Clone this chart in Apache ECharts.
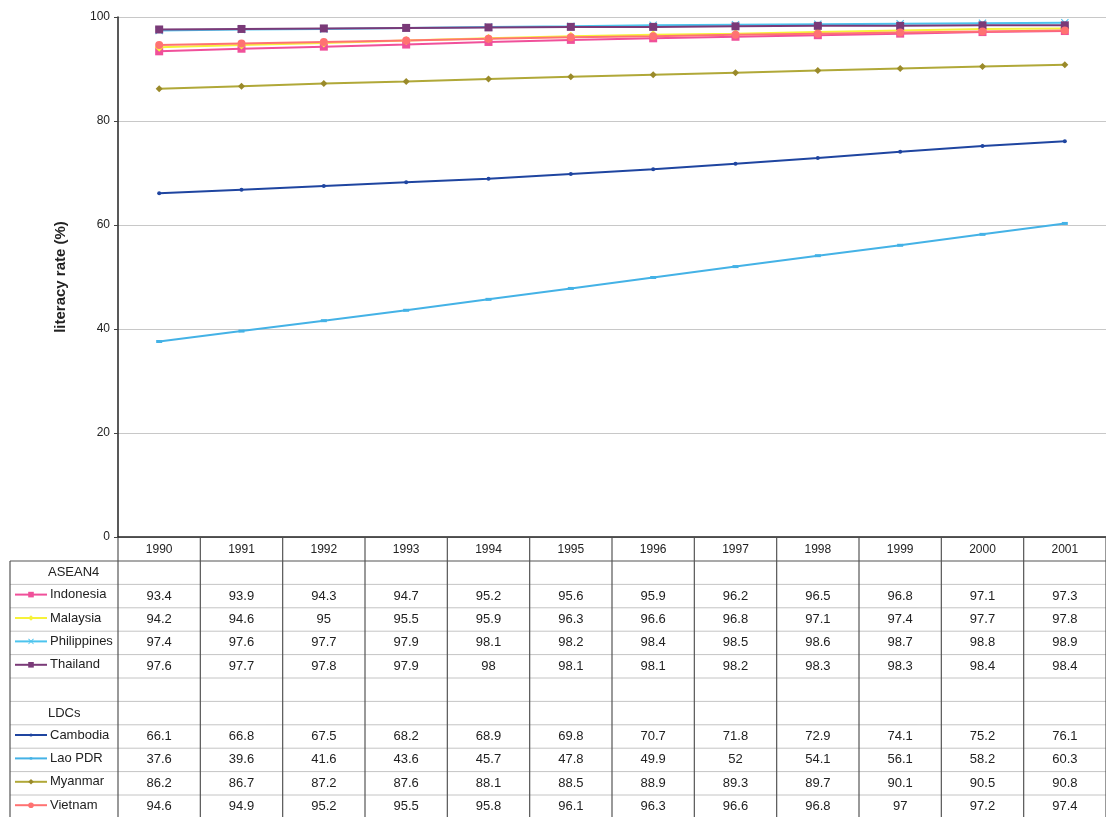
<!DOCTYPE html>
<html><head><meta charset="utf-8">
<script src="https://cdn.jsdelivr.net/npm/echarts@6/dist/echarts.min.js"></script>
<style>html,body{margin:0;padding:0;background:#fff}#c{width:1106px;height:817px}</style>
</head><body><div id="c"></div>
<script>
const years = ['1990','1991','1992','1993','1994','1995','1996','1997','1998','1999','2000','2001'];
const indonesia   = [93.4,93.9,94.3,94.7,95.2,95.6,95.9,96.2,96.5,96.8,97.1,97.3];
const malaysia    = [94.2,94.6,95,95.5,95.9,96.3,96.6,96.8,97.1,97.4,97.7,97.8];
const philippines = [97.4,97.6,97.7,97.9,98.1,98.2,98.4,98.5,98.6,98.7,98.8,98.9];
const thailand    = [97.6,97.7,97.8,97.9,98,98.1,98.1,98.2,98.3,98.3,98.4,98.4];
const cambodia    = [66.1,66.8,67.5,68.2,68.9,69.8,70.7,71.8,72.9,74.1,75.2,76.1];
const laoPDR      = [37.6,39.6,41.6,43.6,45.7,47.8,49.9,52,54.1,56.1,58.2,60.3];
const myanmar     = [86.2,86.7,87.2,87.6,88.1,88.5,88.9,89.3,89.7,90.1,90.5,90.8];
const vietnam     = [94.6,94.9,95.2,95.5,95.8,96.1,96.3,96.6,96.8,97,97.2,97.4];
const groupNames  = ['ASEAN4','LDCs'];
const yTicks = [0,20,40,60,80,100];

const X_PATH = 'path://M0,1L1,0L5,4L9,0L10,1L6,5L10,9L9,10L5,6L1,10L0,9L4,5Z';
const rows = [
  {group: groupNames[0]},
  {name:'Indonesia', data:indonesia, color:'#F0509A', symbol:'rect', size:8},
  {name:'Malaysia', data:malaysia, color:'#F6F23A', symbol:'diamond', size:9},
  {name:'Philippines', data:philippines, color:'#4CC4EE', symbol:X_PATH, size:8},
  {name:'Thailand', data:thailand, color:'#7A3A78', symbol:'rect', size:8},
  {blank:true},
  {group: groupNames[1]},
  {name:'Cambodia', data:cambodia, color:'#1F45A0', symbol:'circle', size:4, lsize:4},
  {name:'Lao PDR', data:laoPDR, color:'#44B2E6', symbol:'rect', size:[6,3], lsize:3},
  {name:'Myanmar', data:myanmar, color:'#9A8A2A', symbol:'diamond', size:7, line:'#B0A838'},
  {name:'Vietnam', data:vietnam, color:'#FF7272', symbol:'circle', size:8}
];

const L = 118, R = 1106, T = 17, B = 537;
const colW = (R - L) / years.length;
const rowTop0 = 561, rowH = 23.4;
const font = '"Liberation Sans", Arial, sans-serif';

const series = [];
const legends = [];
const graphic = [];
const lineCol = '#555';

rows.forEach((r, i) => {
  const cy = rowTop0 + rowH * i + rowH / 2;
  if (r.name) {
    series.push({
      name: r.name, type: 'line', data: r.data,
      symbol: r.symbol, symbolSize: r.size, showSymbol: true,
      lineStyle: {color: r.line || r.color, width: 2},
      itemStyle: {color: r.color},
      animation: false
    });
    const ih = r.lsize || 7;
    legends.push({
      data: [r.name], left: 14, top: cy - 8, itemWidth: 32, itemHeight: ih, itemGap: 0,
      padding: 0, selectedMode: false,
      textStyle: {fontFamily: font, fontSize: 13, color: '#222', padding: [0,0,0,-2]}
    });
    r.data.forEach((v, j) => {
      graphic.push({type: 'text', silent: true, position: [L + colW * j + colW / 2, cy],
        style: {text: String(v), align: 'center', verticalAlign: 'middle',
          font: '13px ' + font, fill: '#222'}});
    });
  } else if (r.group) {
    graphic.push({type: 'text', silent: true, position: [48, cy],
      style: {text: r.group, align: 'left', verticalAlign: 'middle', font: '13px ' + font, fill: '#222'}});
  }
});

// horizontal rules of table
for (let i = 0; i < rows.length; i++) {
  const y = rowTop0 + rowH * i;
  graphic.push({type: 'line', silent: true, shape: {x1: 10, y1: y, x2: R, y2: y},
    style: {stroke: i === 0 ? lineCol : '#c4c4c4', lineWidth: i === 0 ? 1.2 : 1}});
}
// vertical column lines
for (let j = 0; j <= years.length; j++) {
  const x = L + colW * j;
  graphic.push({type: 'line', silent: true, shape: {x1: x, y1: B, x2: x, y2: 817},
    style: {stroke: lineCol, lineWidth: 1.2}});
}
// left table edge
graphic.push({type: 'line', silent: true, shape: {x1: 10, y1: rowTop0, x2: 10, y2: 817}, style: {stroke: lineCol, lineWidth: 1.2}});

const chart = echarts.init(document.getElementById('c'), null, {renderer: 'canvas'});
chart.setOption({
  backgroundColor: '#fff',
  animation: false,
  grid: {left: L, right: 1106 - R, top: T, bottom: 817 - B, containLabel: false},
  legend: legends,
  xAxis: {
    type: 'category', data: years, boundaryGap: true,
    axisLine: {lineStyle: {color: '#222', width: 1.5}},
    axisTick: {show: false},
    axisLabel: {color: '#222', fontFamily: font, fontSize: 12, margin: 7}
  },
  yAxis: {
    type: 'value', min: yTicks[0], max: yTicks[yTicks.length - 1], interval: 20,
    name: 'literacy rate (%)', nameLocation: 'middle', nameGap: 50, nameRotate: 90,
    nameTextStyle: {fontFamily: font, fontSize: 15, fontWeight: 'bold', color: '#222'},
    axisLine: {show: true, lineStyle: {color: '#222', width: 1.5}},
    axisTick: {show: true, length: 4, lineStyle: {color: '#444'}},
    axisLabel: {color: '#222', fontFamily: font, fontSize: 12, margin: 8},
    splitLine: {lineStyle: {color: '#c8c8c8', width: 1}}
  },
  series: series,
  graphic: graphic
});
</script></body></html>
